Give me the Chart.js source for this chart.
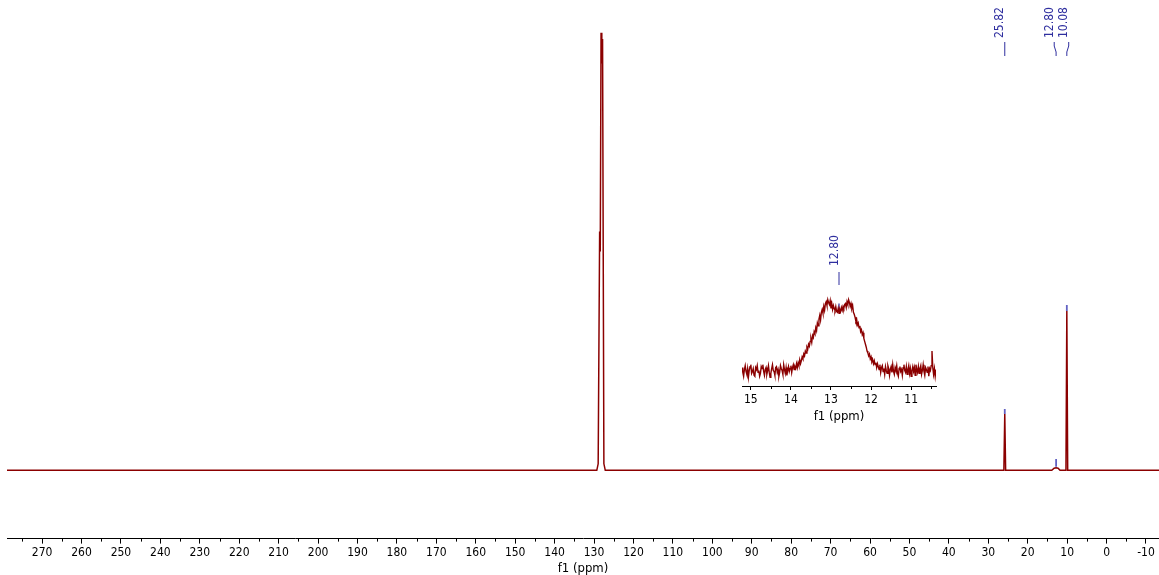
<!DOCTYPE html>
<html><head><meta charset="utf-8">
<script src="https://cdn.jsdelivr.net/npm/chart.js@4.4.1/dist/chart.umd.min.js"></script>
<style>
html,body{margin:0;padding:0;background:#fff;}
#wrap{position:relative;width:1159px;height:575px;background:#fff;}
#main{position:absolute;left:0;top:0;width:1159px;height:575px;}
#inset{position:absolute;left:700px;top:230px;width:260px;height:200px;}
</style></head><body>
<div id="wrap"><div id="main"><canvas id="c1"></canvas></div><div id="inset"><canvas id="c2"></canvas></div></div>
<script>
const FONT = '"Liberation Sans Narrow","DejaVu Sans Condensed","Liberation Sans",sans-serif';

// ---- main spectrum (ppm, relative intensity; tallest line = 100)
const mainPpm = [278.9, 129.3, 128.95, 128.58, 128.42, 128.22, 128.03, 127.84, 127.5, 127.15, 26.05, 25.82, 25.6, 13.9, 13.3, 12.8, 12.3, 11.8, 10.3, 10.08, 9.86, -13.3];
const mainInt = [0, 0, 1.5, 54.6, 50, 100, 93, 98.6, 1.5, 0, 0, 12.9, 0, 0, 0.5, 0.6, 0.5, 0, 0, 36.4, 0, 0];
const mainTickValues = [270,260,250,240,230,220,210,200,190,180,170,160,150,140,130,120,110,100,90,80,70,60,50,40,30,20,10,0,-10];

// ---- picked peaks
const pickPpm = [25.82, 12.80, 10.08];
const pickLabels = ['25.82', '12.80', '10.08'];
const pickBottom = [12.9, 0.8, 36.4];
const pickTop = [14.0, 2.6, 37.8];

// ---- inset (15.22 -> 10.38 ppm), intensities
const insetStart = 15.22, insetStep = 0.02;
const insetInt = [
 3,-2,-6,1,5,-1,-4,2,-7,0,
 4,6,-3,-1,2,-5,-6,3,1,5,
 -2,0,-6,-3,4,2,6,-1,-5,1,
 3,-4,0,5,-2,-7,-3,2,6,0,
 -1,-5,3,4,-2,1,-6,-2,5,2,
 0,-4,6,1,-3,3,-5,0,4,-1,
 2,5,-2,3,6,1,4,2,7,3,
 8,5,11,7,10,14,12,17,15,20,
 18,24,22,27,25,30,33,29,36,34,
 40,38,44,41,49,46,53,57,52,60,
 63,59,66,62,69,71,67,73,70,68,
 72,64,69,63,67,64,62,66,61,60,
 64,59,63,61,65,62,66,64,68,69,
 65,71,68,73,70,66,69,64,67,60,
 58,55,51,53,47,49,44,46,40,42,
 37,39,33,30,27,24,20,18,15,17,
 12,14,9,11,7,10,6,8,3,7,
 4,1,6,-2,3,5,-1,2,-4,4,
 0,-3,5,2,-5,1,4,-2,6,-1,
 -4,3,0,5,-3,-6,2,4,-1,1,
 -5,3,6,0,-2,4,-4,1,5,-3,
 2,-6,0,4,-1,3,-5,6,1,-2,
 4,-3,2,5,-4,0,6,-1,-5,3,
 1,-2,4,-6,2,0,5,20,3,-4,
 2,-6,1];
const insetPpm = insetInt.map((_, i) => +(insetStart - insetStep * i).toFixed(2));
const insetTickValues = [15, 14, 13, 12, 11];
const insetPick = [12.80];
const insetPickLabels = ['12.80'];
const insetPickBottom = [63];
const insetPickTop = [69];

const RED = '#8b0000';
const BLUE = '#2f2f9f';

function segData(ppm, lo, hi) {
  const out = [];
  ppm.forEach((p, i) => { out.push({x: p, y: lo[i]}, {x: p, y: hi[i]}, {x: p, y: null}); });
  return out;
}

const peakLabelPlugin = {
  id: 'peakLabels',
  afterDatasetsDraw(chart, args, o) {
    if (!o || !o.ppm) return;
    const {ctx} = chart; const x = chart.scales.x;
    const px = o.ppm.map(p => x.getPixelForValue(p));
    const idx = px.map((v, i) => i).sort((a, b) => px[a] - px[b]);
    const lx = idx.map(i => px[i]);
    for (let it = 0; it < 60; it++) {
      for (let k = 1; k < lx.length; k++) {
        const d = lx[k] - lx[k - 1];
        if (d < o.minGap) { const s = (o.minGap - d) / 2; lx[k - 1] -= s; lx[k] += s; }
      }
    }
    ctx.save();
    ctx.strokeStyle = BLUE; ctx.fillStyle = BLUE; ctx.lineWidth = 1;
    idx.forEach((i, k) => {
      const L = lx[k], P = px[i];
      ctx.beginPath();
      ctx.moveTo(L, o.lineTop);
      ctx.lineTo(L, o.lineTop + 4);
      ctx.lineTo(P, o.lineBottom - 4);
      ctx.lineTo(P, o.lineBottom);
      ctx.stroke();
      ctx.save();
      ctx.translate(L - 4.5, o.textBottom);
      ctx.rotate(-Math.PI / 2);
      ctx.font = '12px ' + FONT;
      ctx.textAlign = 'left'; ctx.textBaseline = 'middle';
      ctx.fillText(o.labels[i], 0, 0);
      ctx.restore();
    });
    ctx.restore();
  }
};

const minorTickPlugin = {
  id: 'minorTicks',
  afterDraw(chart, args, o) {
    if (!o || !o.step) return;
    const {ctx, chartArea} = chart; const x = chart.scales.x;
    const lo = Math.min(x.min, x.max), hi = Math.max(x.min, x.max);
    const set = new Set();
    o.values.forEach(v => { [v - o.step / 2, v + o.step / 2].forEach(m => { if (m > lo && m < hi) set.add(m); }); });
    ctx.save(); ctx.strokeStyle = '#000'; ctx.lineWidth = 1;
    set.forEach(m => {
      const p = Math.round(x.getPixelForValue(m)) + 0.5;
      ctx.beginPath(); ctx.moveTo(p, chartArea.bottom); ctx.lineTo(p, chartArea.bottom + o.len); ctx.stroke();
    });
    ctx.restore();
  }
};

Chart.register(peakLabelPlugin, minorTickPlugin);

function xScale(min, max, ticks, tickLen, tickPad) {
  return {
    type: 'linear', reverse: true, min, max, position: 'bottom',
    afterBuildTicks(s) { s.ticks = ticks.map(v => ({value: v})); },
    ticks: {autoSkip: false, maxRotation: 0, minRotation: 0, padding: tickPad, color: '#000',
      font: {family: FONT, size: 12, lineHeight: 1.2}, callback: v => String(v)},
    grid: {display: true, drawOnChartArea: false, drawTicks: true, tickLength: tickLen, color: '#000'},
    border: {display: true, color: '#000', width: 1},
    title: {display: true, text: 'f1 (ppm)', color: '#000', font: {family: FONT, size: 13, lineHeight: 1}, padding: {top: 0, bottom: 0}}
  };
}

new Chart(document.getElementById('c1'), {
  type: 'line',
  data: {datasets: [
    {data: mainPpm.map((p, i) => ({x: p, y: mainInt[i]})), borderColor: RED, borderWidth: 1.5, pointRadius: 0, tension: 0, fill: false},
    {data: segData(pickPpm, pickBottom, pickTop), borderColor: 'rgba(70,70,185,0.85)', borderWidth: 1.8, pointRadius: 0, spanGaps: false, fill: false}
  ]},
  options: {
    responsive: true, maintainAspectRatio: false, animation: false, events: [],
    layout: {padding: {left: 7, right: 0, top: 0, bottom: 0}},
    scales: {
      x: xScale(-13.3, 278.9, mainTickValues, 5, 2),
      y: {display: false, min: -15.6, max: 107.5}
    },
    plugins: {legend: {display: false}, tooltip: {enabled: false},
      peakLabels: {ppm: pickPpm, labels: pickLabels, minGap: 14.5, lineTop: 42, lineBottom: 56, textBottom: 38},
      minorTicks: {step: 10, values: mainTickValues, len: 3}}
  }
});

new Chart(document.getElementById('c2'), {
  type: 'line',
  data: {datasets: [
    {data: insetPpm.map((p, i) => ({x: p, y: insetInt[i]})), borderColor: RED, borderWidth: 1.4, pointRadius: 0, tension: 0, fill: false},
    {data: segData(insetPick, insetPickBottom, insetPickTop), borderColor: '#3a3aa8', borderWidth: 1.3, pointRadius: 0, spanGaps: false, fill: false}
  ]},
  options: {
    responsive: true, maintainAspectRatio: false, animation: false, events: [],
    layout: {padding: {left: 42, right: 24, top: 60, bottom: 6.6}},
    scales: {
      x: xScale(10.38, 15.22, insetTickValues, 4, 3),
      y: {display: false, min: -16, max: 83}
    },
    plugins: {legend: {display: false}, tooltip: {enabled: false},
      peakLabels: {ppm: insetPick, labels: insetPickLabels, minGap: 14.5, lineTop: 42, lineBottom: 55, textBottom: 36},
      minorTicks: {step: 1, values: insetTickValues, len: 3}}
  }
});
</script>
</body></html>
